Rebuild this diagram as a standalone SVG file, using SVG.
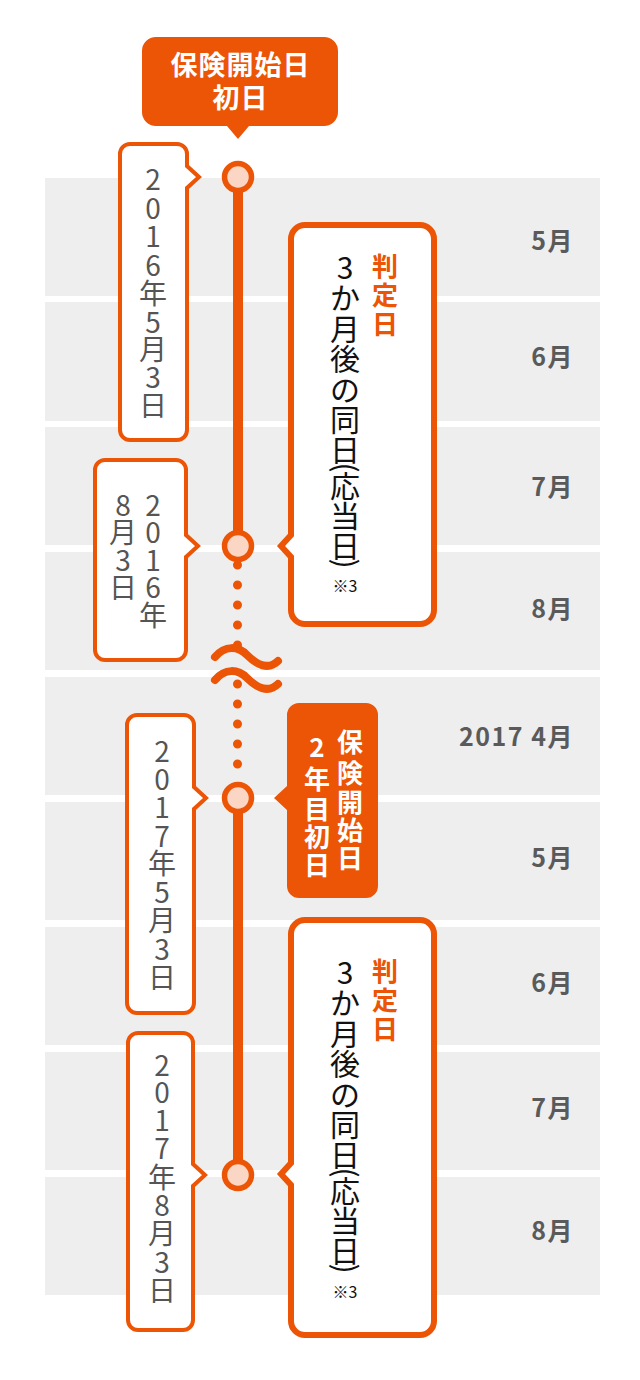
<svg xmlns="http://www.w3.org/2000/svg" width="640" height="1380" viewBox="0 0 640 1380">
<style>
.band{fill:#eeeeee}
.month{font-family:"Noto Sans CJK JP","Noto Sans",sans-serif;font-size:25px;font-weight:bold;fill:#5a5a5a;text-anchor:end;letter-spacing:1.5px}
.date{font-family:"Noto Sans CJK JP","Noto Sans",sans-serif;font-size:28px;fill:#555555;text-anchor:middle}
.dbox{fill:#ffffff;stroke:#eb5505;stroke-width:4;stroke-linejoin:miter}
.jbox{fill:#ffffff;stroke:#eb5505;stroke-width:6;stroke-linejoin:miter}
.obox{fill:#eb5505}
.otext{font-family:"Noto Sans CJK JP","Noto Sans",sans-serif;font-size:26px;font-weight:bold;fill:#ffffff;text-anchor:middle}
.ctext{font-family:"Noto Sans CJK JP","Noto Sans",sans-serif;font-size:27px;font-weight:bold;fill:#ffffff;text-anchor:middle}
.jlabel{font-family:"Noto Sans CJK JP","Noto Sans",sans-serif;font-size:26px;font-weight:bold;fill:#eb5505;text-anchor:middle}
.jmain{font-family:"Noto Sans CJK JP","Noto Sans",sans-serif;font-size:30px;fill:#111111}
.note{font-family:"Noto Sans CJK JP","Noto Sans",sans-serif;font-size:16px;fill:#111111;text-anchor:middle}
.line{stroke:#eb5505;stroke-width:10;fill:none}
.dots{stroke:#eb5505;stroke-width:9;fill:none;stroke-linecap:round;stroke-dasharray:0 20}
.wave{stroke:#eb5505;stroke-width:8;fill:none;stroke-linecap:round}
.dot{fill:#fcd6c4;stroke:#eb5505;stroke-width:5.5}
</style>

<g id="bands">
<rect class="band" x="45" y="178" width="555" height="118"/>
<rect class="band" x="45" y="302" width="555" height="119"/>
<rect class="band" x="45" y="427" width="555" height="118"/>
<rect class="band" x="45" y="552" width="555" height="118"/>
<rect class="band" x="45" y="677" width="555" height="118"/>
<rect class="band" x="45" y="802" width="555" height="118"/>
<rect class="band" x="45" y="927" width="555" height="118"/>
<rect class="band" x="45" y="1052" width="555" height="118"/>
<rect class="band" x="45" y="1177" width="555" height="118"/>
</g>

<g id="months">
<text class="month" x="574" y="250">5月</text>
<text class="month" x="574" y="366">6月</text>
<text class="month" x="574" y="496">7月</text>
<text class="month" x="574" y="618">8月</text>
<text class="month" x="574" y="746">2017 4月</text>
<text class="month" x="574" y="867">5月</text>
<text class="month" x="574" y="992">6月</text>
<text class="month" x="574" y="1117">7月</text>
<text class="month" x="574" y="1240">8月</text>
</g>

<g id="connectors">
<path class="line" d="M238,177 V546"/>
<path class="line" d="M238,798 V1175"/>
<path class="dots" d="M237.5,565 V646"/>
<path class="dots" d="M237.5,684 V766"/>
<path class="wave" d="M215,657 C225,645 238,646 247,655 S268,671 278,661"/>
<path class="wave" d="M215,680 C225,668 238,669 247,678 S268,694 278,684"/>
<circle class="dot" cx="238" cy="177" r="13.5"/>
<circle class="dot" cx="238" cy="546" r="13.5"/>
<circle class="dot" cx="238" cy="798" r="13.5"/>
<circle class="dot" cx="238" cy="1175" r="13.5"/>
</g>

<g id="start-callout">
<path class="obox" d="M156,37 H324 A14,14 0 0 1 338,51 V112 A14,14 0 0 1 324,126 H249 L238,139 L227,126 H156 A14,14 0 0 1 142,112 V51 A14,14 0 0 1 156,37 Z"/>
<text class="ctext" x="184 212 240 268 296 226 254" y="75 75 75 75 75 108 108">保険開始日初日</text>
</g>

<g id="date-2016-05-03">
<path class="dbox" d="M130,144 H177 A10,10 0 0 1 187,154 V166 L199,177 L187,188 V430 A10,10 0 0 1 177,440 H130 A10,10 0 0 1 120,430 V154 A10,10 0 0 1 130,144 Z"/>
<text class="date" x="153 153 153 153 153 153 153 153 153" y="189.5 218.5 246.5 275.5 303.5 332.5 359.5 387.5 415.5">2016年5月3日</text>
</g>

<g id="date-2016-08-03">
<path class="dbox" d="M105,460 H176 A10,10 0 0 1 186,470 V535 L198,546 L186,557 V650 A10,10 0 0 1 176,660 H105 A10,10 0 0 1 95,650 V470 A10,10 0 0 1 105,460 Z"/>
<text class="date" x="153 153 153 153 153 123 123 123 123" y="515.5 542.5 570.5 597.5 625.5 515.5 542.5 570.5 597.5">2016年8月3日</text>
</g>

<g id="judge-1">
<path class="jbox" d="M305,225 H420 A14,14 0 0 1 434,239 V610 A14,14 0 0 1 420,624 H305 A14,14 0 0 1 291,610 V557 L281,546 L291,535 V239 A14,14 0 0 1 305,225 Z"/>
<text class="jlabel" x="385 385 385" y="275.75 304.75 333.75">判定日</text>
<text class="jmain" x="336.7 330 330 330 330 330 330 335.4 330 330 330 335.4" y="278.5 309.25 340.25 370.25 401.25 431.25 461.25 462.6 497.25 527.25 557.25 558.5" rotate="0 0 0 0 0 0 0 90 0 0 0 90">3か月後の同日(応当日)</text>
<text class="note" x="345" y="592">※3</text>
</g>

<g id="year2-callout">
<path class="obox" d="M299,703 H366 A12,12 0 0 1 378,715 V886 A12,12 0 0 1 366,898 H299 A12,12 0 0 1 287,886 V810 L274,798 L287,786 V715 A12,12 0 0 1 299,703 Z"/>
<text class="otext" x="350 350 350 350 350" y="751.75 782.75 811.75 839.75 867.75">保険開始日</text>
<text class="otext" x="317 317 317 317 317" y="757 788.75 818.75 846.75 874.75">2年目初日</text>
</g>

<g id="date-2017-05-03">
<path class="dbox" d="M137,715 H184 A10,10 0 0 1 194,725 V787 L206,798 L194,809 V1003 A10,10 0 0 1 184,1013 H137 A10,10 0 0 1 127,1003 V725 A10,10 0 0 1 137,715 Z"/>
<text class="date" x="162 162 162 162 162 162 162 162 162" y="761.5 789.5 817.5 846.5 873.5 902.5 930.5 959.5 987.5">2017年5月3日</text>
</g>

<g id="date-2017-08-03">
<path class="dbox" d="M138,1033 H183 A10,10 0 0 1 193,1043 V1164 L205,1175 L193,1186 V1320 A10,10 0 0 1 183,1330 H138 A10,10 0 0 1 128,1320 V1043 A10,10 0 0 1 138,1033 Z"/>
<text class="date" x="162 162 162 162 162 162 162 162 162" y="1075.5 1102.5 1130.5 1158.5 1187.5 1215.5 1243.5 1272.5 1300.5">2017年8月3日</text>
</g>

<g id="judge-2">
<path class="jbox" d="M305,920 H420 A14,14 0 0 1 434,934 V1321 A14,14 0 0 1 420,1335 H305 A14,14 0 0 1 291,1321 V1185 L281,1174 L291,1163 V934 A14,14 0 0 1 305,920 Z"/>
<text class="jlabel" x="385 385 385" y="980.75 1009.75 1038.75">判定日</text>
<text class="jmain" x="336.7 330 330 330 330 330 330 335.4 330 330 330 335.4" y="983.5 1014.25 1045.25 1075.25 1106.25 1136.25 1166.25 1167.6 1202.25 1232.25 1262.25 1263.5" rotate="0 0 0 0 0 0 0 90 0 0 0 90">3か月後の同日(応当日)</text>
<text class="note" x="345" y="1298">※3</text>
</g>
</svg>
